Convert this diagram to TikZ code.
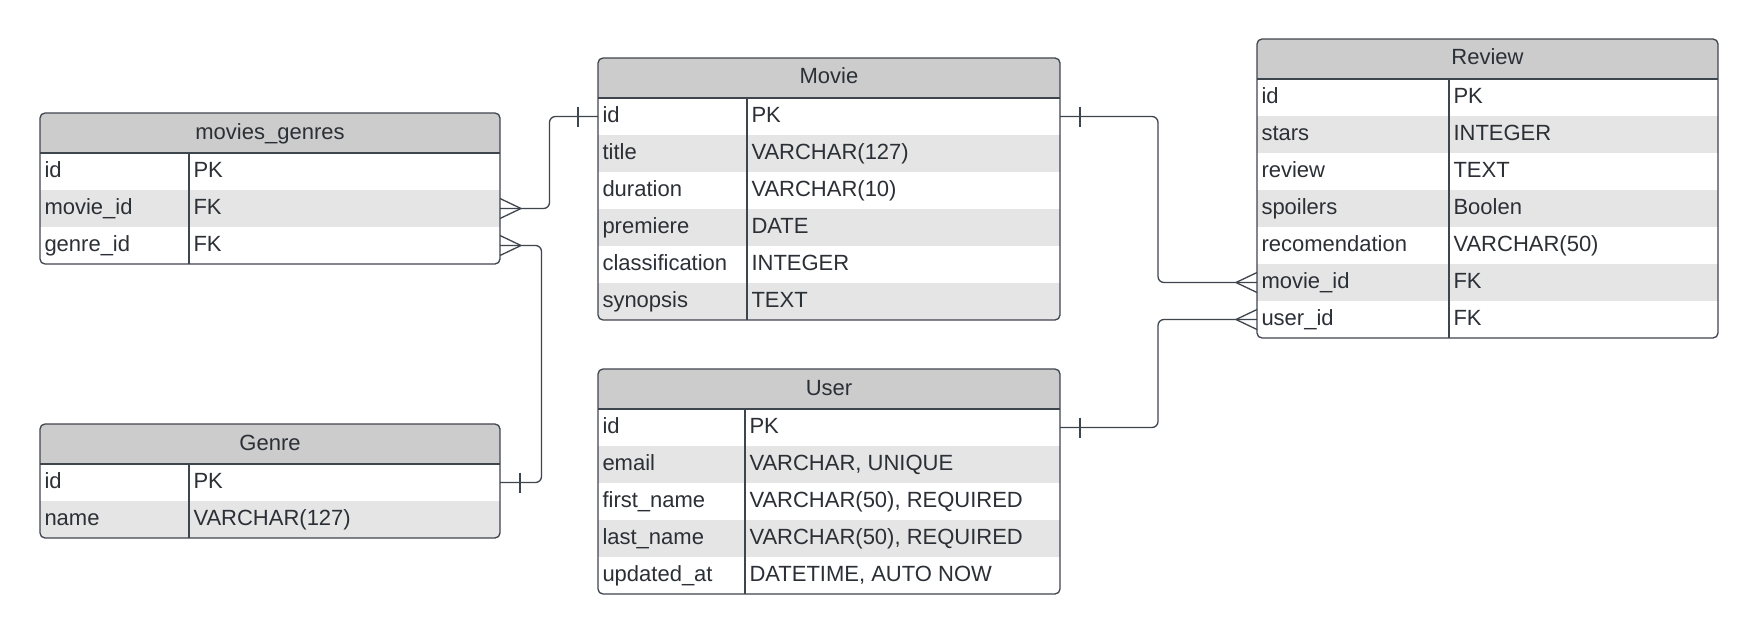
\documentclass[tikz,border=0pt]{standalone}
\usepackage{fontspec}
\setmainfont{Liberation Sans}
\usetikzlibrary{calc}
\definecolor{hdr}{HTML}{CCCCCC}
\definecolor{altrow}{HTML}{E5E5E5}
\definecolor{bord}{HTML}{3F454D}
\definecolor{txtc}{HTML}{2B2F36}
\tikzset{
 tabbox/.style={draw=bord, line width=1.3pt, rounded corners=5pt, inner sep=0pt, outer sep=0pt, anchor=north west},
 rowbox/.style={inner sep=0pt, outer sep=0pt, anchor=north west, minimum height=37pt},
 celltxt/.style={inner sep=0pt, outer sep=0pt, anchor=base west, text=txtc, font=\fontsize{22}{26}\selectfont},
 titletxt/.style={inner sep=0pt, outer sep=0pt, anchor=base, text=txtc, font=\fontsize{22}{26}\selectfont},
 sepline/.style={draw=bord, line width=1.3pt},
 conn/.style={draw=bord, line width=1.3pt, rounded corners=6pt},
 crowline/.style={draw=bord, line width=1.3pt}
}
\newcommand\ertab[8]{%
 \pgfmathsetmacro\tabh{40+37*#7}%
 \begin{scope}
  \clip[rounded corners=5pt] (#2,#3) rectangle ++(#4,\tabh);
  \fill[hdr] (#2,#3) rectangle ++(#4,40);
  \foreach \f/\t [count=\i] in {#8} {
    \pgfmathsetmacro\ry{#3+40+37*(\i-1)}
    \ifodd\i\relax\else\fill[altrow] (#2,\ry) rectangle ++(#4,37);\fi
  }
 \end{scope}
 \node[tabbox, minimum width=#4pt, minimum height=\tabh pt] (#1) at (#2,#3) {};
 \draw[sepline] (#2,#3+40) -- ++(#4,0);
 \draw[sepline] (#2+#5,#3+40) -- ++(0,37*#7);
 \node[titletxt] (#1-title) at (#2+#4/2,#3+26) {#6};
 \foreach \f/\t [count=\i] in {#8} {
   \pgfmathsetmacro\ry{#3+40+37*(\i-1)}
   \node[rowbox, minimum width=#4pt] (#1-\i) at (#2,\ry) {};
   \node[celltxt] (#1-\i-f) at (#2+4.5,\ry+24) {\f};
   \node[celltxt] (#1-\i-t) at (#2+#5+4.5,\ry+24) {\t};
 }
}
\newcommand\crow[2]{%
 \draw[crowline] ($(#1)+(#2*21,0)$) -- ($(#1)+(0,-10)$) ($(#1)+(#2*21,0)$) -- ($(#1)+(0,10)$);}
\newcommand\onebar[2]{%
 \draw[crowline] ($(#1)+(#2*20,-10)$) -- ($(#1)+(#2*20,10)$);}
\begin{document}
\begin{tikzpicture}[x=1pt,y=-1pt]
\useasboundingbox (0,0) rectangle (1759,634);
\fill[white] (0,0) rectangle (1759,634);
\ertab{mg}{40}{113}{460}{149}{movies\_genres}{3}{id/PK, movie\_id/FK, genre\_id/FK}
\ertab{genre}{40}{424}{460}{149}{Genre}{2}{id/PK, name/VARCHAR(127)}
\ertab{movie}{598}{58}{462}{149}{Movie}{6}{id/PK, title/VARCHAR(127), duration/VARCHAR(10), premiere/DATE, classification/INTEGER, synopsis/TEXT}
\ertab{user}{598}{369}{462}{147}{User}{5}{id/PK, email/{VARCHAR, UNIQUE}, first\_name/{VARCHAR(50), REQUIRED}, last\_name/{VARCHAR(50), REQUIRED}, updated\_at/{DATETIME, AUTO NOW}}
\ertab{review}{1257}{39}{461}{192}{Review}{7}{id/PK, stars/INTEGER, review/TEXT, spoilers/Boolen, recomendation/VARCHAR(50), movie\_id/FK, user\_id/FK}
\draw[conn] (mg-2.east) -- ++(49.5,0) |- (movie-1.west);
\draw[conn] (mg-3.east) -- ++(41.5,0) |- (genre-1.east);
\draw[conn] (movie-1.east) -- ++(98,0) |- (review-6.west);
\draw[conn] (user-1.east) -- ++(98,0) |- (review-7.west);
\crow{mg-2.east}{1}
\crow{mg-3.east}{1}
\crow{review-6.west}{-1}
\crow{review-7.west}{-1}
\onebar{movie-1.west}{-1}
\onebar{genre-1.east}{1}
\onebar{movie-1.east}{1}
\onebar{user-1.east}{1}
\end{tikzpicture}
\end{document}
